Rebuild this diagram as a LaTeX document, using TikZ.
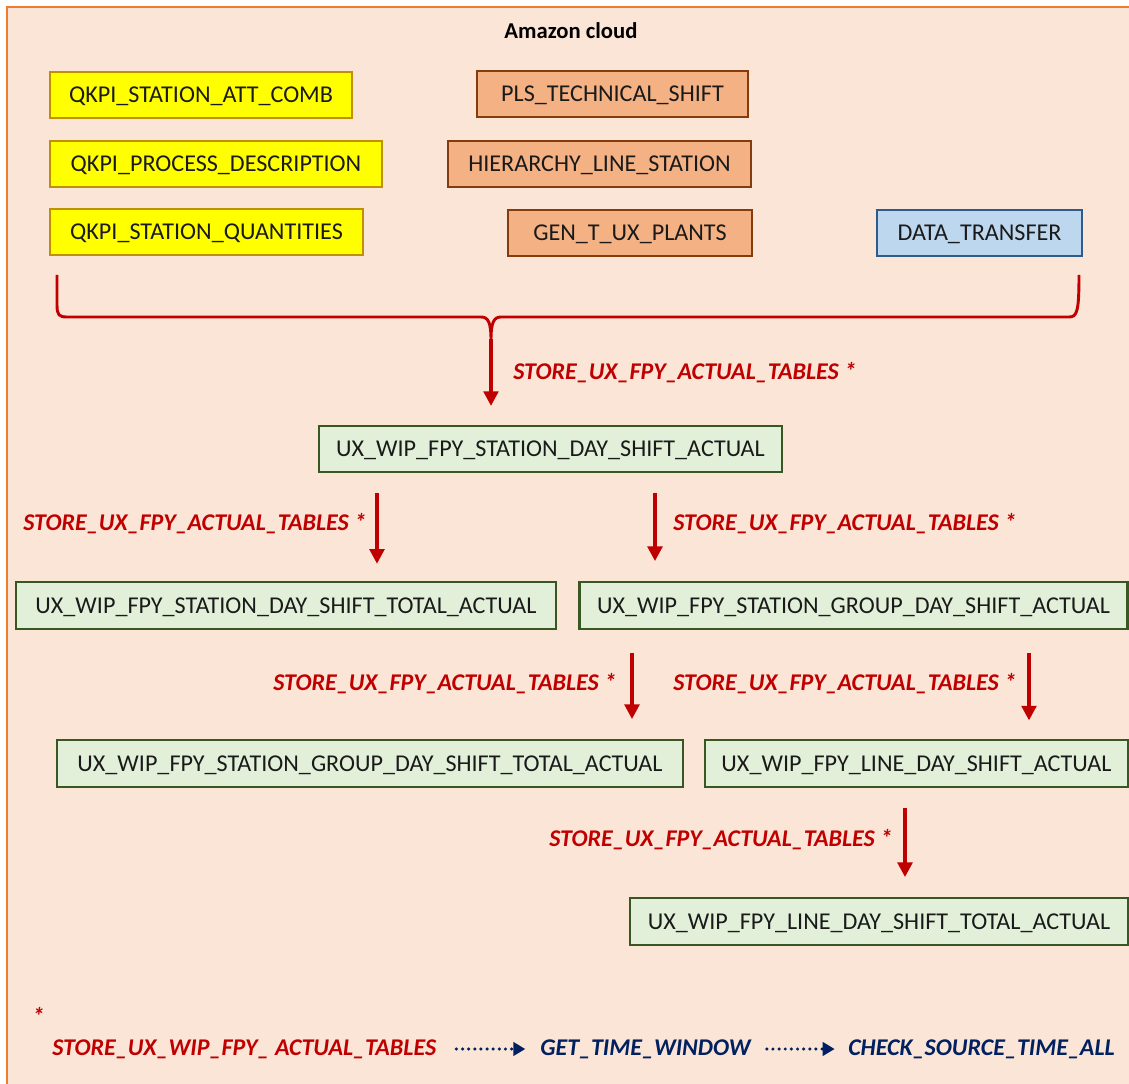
\documentclass[tikz,border=0pt]{standalone}
\usepackage{fontspec}
\setmainfont{Carlito}
\usetikzlibrary{arrows.meta,calc}
\definecolor{bgfill}{HTML}{FBE5D6}
\definecolor{frameor}{HTML}{ED7D31}
\definecolor{yelfill}{HTML}{FFFF00}
\definecolor{yeldraw}{HTML}{BF9000}
\definecolor{orfill}{HTML}{F4B183}
\definecolor{ordraw}{HTML}{843C0C}
\definecolor{bluefill}{HTML}{BDD7EE}
\definecolor{bluedraw}{HTML}{2E5B8C}
\definecolor{grfill}{HTML}{E2F0D9}
\definecolor{grdraw}{HTML}{385723}
\definecolor{redtxt}{HTML}{C00000}
\definecolor{navytxt}{HTML}{002060}
\definecolor{boxtxt}{HTML}{1A1A1A}
\tikzset{
  tbl/.style={draw, line width=1.6pt, inner sep=0pt, minimum height=35pt,
    text height=11.7pt, text depth=0pt,
    text=boxtxt, font=\fontsize{18.1}{21}\selectfont},
  yel/.style={tbl, fill=yelfill, draw=yeldraw},
  orb/.style={tbl, fill=orfill, draw=ordraw},
  blu/.style={tbl, fill=bluefill, draw=bluedraw},
  grn/.style={tbl, fill=grfill, draw=grdraw},
  flow/.style={draw=redtxt, line width=2.6pt, -{Triangle[length=11pt,width=11pt]}},
  lbl/.style={text=redtxt, font=\fontsize{18}{21}\selectfont\bfseries\itshape, inner sep=0pt},
  leg/.style={font=\fontsize{18}{21}\selectfont\bfseries\itshape, inner sep=0pt},
  dotarrow/.style={draw=navytxt, line width=2.6pt, line cap=round, dash pattern=on 0pt off 4.6pt, -{Triangle[length=9pt,width=10pt]}}
}
\begin{document}
\begin{tikzpicture}[x=0.75pt,y=-0.75pt]
\useasboundingbox (0,0) rectangle (1129,1084);
\fill[white] (0,0) rectangle (1129,1084);
\draw[fill=bgfill, draw=frameor, line width=1.8pt] (7,7) rectangle (1160,1110);
\node[font=\fontsize{17}{20}\selectfont\bfseries] (title) at (571,31) {Amazon cloud};
% source tables
\node[yel, minimum width=226.5pt] (q1) at (201,95) {QKPI\_STATION\_ATT\_COMB};
\node[yel, minimum width=249pt] (q2) at (216,164) {QKPI\_PROCESS\_DESCRIPTION};
\node[yel, minimum width=234.75pt] (q3) at (206.5,232) {QKPI\_STATION\_QUANTITIES};
\node[orb, minimum width=203.25pt] (p1) at (612.5,94) {PLS\_TECHNICAL\_SHIFT};
\node[orb, minimum width=227.25pt] (p2) at (599.5,164) {HIERARCHY\_LINE\_STATION};
\node[orb, minimum width=183pt] (p3) at (630,233) {GEN\_T\_UX\_PLANTS};
\node[blu, minimum width=153.75pt] (dt) at (979.5,233) {DATA\_TRANSFER};
% brace
\coordinate (bl) at (57,275);
\coordinate (br) at (1079,275);
\coordinate (cusp) at (491,340);
\draw[draw=redtxt, line width=2.2pt]
  (bl) -- (57,305) .. controls (57,315) and (59,317) .. (67,317)
  -- (481,317) .. controls (488,317) and (491,322) .. (cusp)
  .. controls (491,322) and (494,317) .. (501,317)
  -- (1069,317) .. controls (1077,317) and (1079,312) .. (br);
% main tables
\node[grn, minimum width=347.25pt] (t1) at (550.5,449) {UX\_WIP\_FPY\_STATION\_DAY\_SHIFT\_ACTUAL};
\node[grn, minimum width=405pt] (t2) at (286,605.5) {UX\_WIP\_FPY\_STATION\_DAY\_SHIFT\_TOTAL\_ACTUAL};
\node[grn, minimum width=411pt] (t3) at (853.5,605.5) {UX\_WIP\_FPY\_STATION\_GROUP\_DAY\_SHIFT\_ACTUAL};
\node[grn, minimum width=469.5pt] (t4) at (370,763.5) {UX\_WIP\_FPY\_STATION\_GROUP\_DAY\_SHIFT\_TOTAL\_ACTUAL};
\node[grn, minimum width=317.25pt] (t5) at (916.5,763.5) {UX\_WIP\_FPY\_LINE\_DAY\_SHIFT\_ACTUAL};
\node[grn, minimum width=373.5pt] (t6) at (879,921.5) {UX\_WIP\_FPY\_LINE\_DAY\_SHIFT\_TOTAL\_ACTUAL};
% arrows
\draw[flow, shorten <=-1pt, shorten >=14pt] (cusp) -- (cusp |- t1.north);
\coordinate (xa) at (377,0);
\coordinate (xb) at (655,0);
\coordinate (xc) at (632,0);
\coordinate (xd) at (1029,0);
\coordinate (xe) at (905,0);
\draw[flow, shorten <=15pt, shorten >=13pt] (xa |- t1.south) -- (xa |- t2.north);
\draw[flow, shorten <=15pt, shorten >=15pt] (xb |- t1.south) -- (xb |- t2.north);
\draw[flow, shorten <=17pt, shorten >=15pt] (xc |- t3.south) -- (xc |- t4.north);
\draw[flow, shorten <=17pt, shorten >=14pt] (xd |- t3.south) -- (xd |- t5.north);
\draw[flow, shorten <=15pt, shorten >=15pt] (xe |- t5.south) -- (xe |- t6.north);
% labels
\node[lbl, anchor=west] (l0) at (513,373) {STORE\_UX\_FPY\_ACTUAL\_TABLES *};
\node[lbl, anchor=west] (l1) at (23,524) {STORE\_UX\_FPY\_ACTUAL\_TABLES *};
\node[lbl, anchor=west] (l2) at (673,524) {STORE\_UX\_FPY\_ACTUAL\_TABLES *};
\node[lbl, anchor=west] (l3) at (273,684) {STORE\_UX\_FPY\_ACTUAL\_TABLES *};
\node[lbl, anchor=west] (l4) at (673,684) {STORE\_UX\_FPY\_ACTUAL\_TABLES *};
\node[lbl, anchor=west] (l5) at (549,840) {STORE\_UX\_FPY\_ACTUAL\_TABLES *};
% legend
\node[lbl, anchor=west] (star) at (32,1016) {*};
\node[leg, text=redtxt, anchor=west] (g1) at (52,1049) {STORE\_UX\_WIP\_FPY\_ ACTUAL\_TABLES};
\node[leg, text=navytxt, anchor=west] (g2) at (540,1049) {GET\_TIME\_WINDOW};
\node[leg, text=navytxt, anchor=west] (g3) at (848,1049) {CHECK\_SOURCE\_TIME\_ALL};
\draw[dotarrow, shorten <=15pt, shorten >=11pt] (g1.east) -- (g2.west);
\draw[dotarrow, shorten <=12pt, shorten >=10pt] (g2.east) -- (g3.west);
\end{tikzpicture}
\end{document}
